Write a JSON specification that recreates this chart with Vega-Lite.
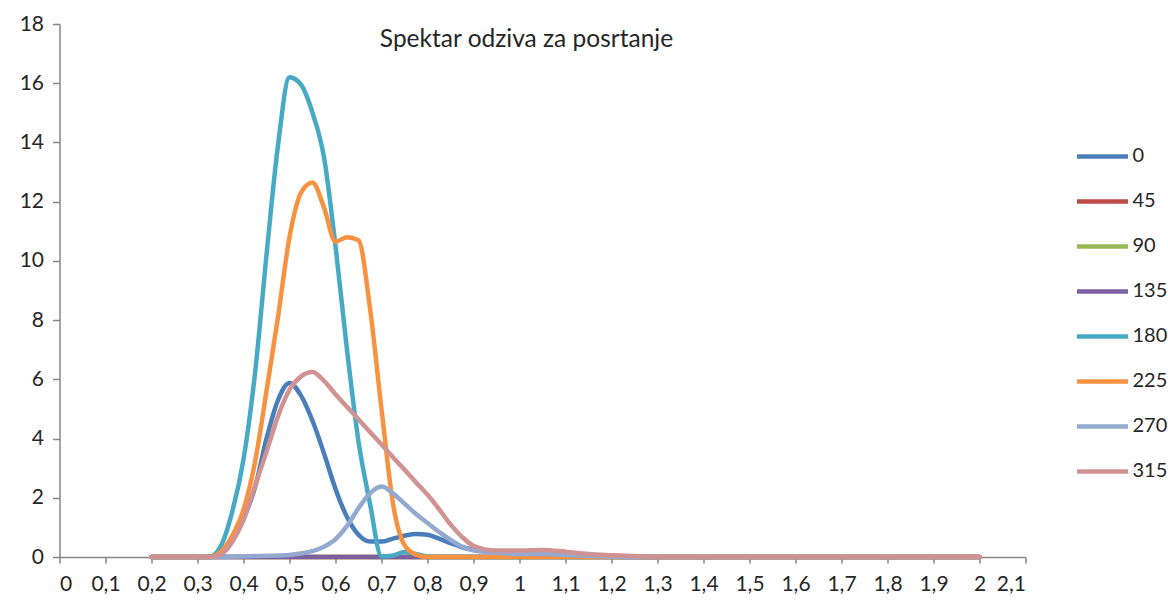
{
  "$schema": "https://vega.github.io/schema/vega-lite/v6.json",
  "width": 966,
  "height": 533,
  "autosize": {"type": "none"},
  "padding": {"left": 59.5, "top": 24, "right": 142.5, "bottom": 52},
  "background": "white",
  "config": {"view": {"stroke": null}},
  "title": {"text": "Spektar odziva za posrtanje", "anchor": "middle", "offset": -39, "dx": -16, "fontSize": 24.5, "font": "Lato", "fontWeight": "normal", "color": "#262626"},
  "data": {"values": [
    {"x": 0.2, "0": 0, "45": 0, "90": 0, "135": 0, "180": 0, "225": 0, "270": 0, "315": 0},
    {"x": 0.25, "0": 0, "45": 0, "90": 0, "135": 0, "180": 0, "225": 0, "270": 0, "315": 0},
    {"x": 0.3, "0": 0, "45": 0, "90": 0, "135": 0, "180": 0, "225": 0, "270": 0, "315": 0},
    {"x": 0.325, "0": 0, "45": 0, "90": 0, "135": 0, "180": 0, "225": 0, "270": 0, "315": 0},
    {"x": 0.35, "0": 0.12, "45": 0, "90": 0, "135": 0, "180": 0.35, "225": 0.17, "270": 0, "315": 0.08},
    {"x": 0.375, "0": 0.55, "45": 0, "90": 0, "135": 0, "180": 1.5, "225": 0.7, "270": 0.01, "315": 0.5},
    {"x": 0.4, "0": 1.3, "45": 0, "90": 0, "135": 0, "180": 3.3, "225": 1.6, "270": 0.02, "315": 1.25},
    {"x": 0.425, "0": 2.35, "45": 0, "90": 0, "135": 0, "180": 6.2, "225": 3.2, "270": 0.03, "315": 2.4},
    {"x": 0.45, "0": 4.0, "45": 0, "90": 0, "135": 0, "180": 10.2, "225": 5.6, "270": 0.04, "315": 3.55},
    {"x": 0.475, "0": 5.3, "45": 0, "90": 0, "135": 0, "180": 13.9, "225": 8.1, "270": 0.05, "315": 4.75},
    {"x": 0.5, "0": 5.88, "45": 0, "90": 0, "135": 0, "180": 16.2, "225": 10.8, "270": 0.07, "315": 5.65},
    {"x": 0.525, "0": 5.45, "45": 0, "90": 0, "135": 0, "180": 15.95, "225": 12.3, "270": 0.12, "315": 6.1},
    {"x": 0.55, "0": 4.6, "45": 0, "90": 0, "135": 0, "180": 15.0, "225": 12.65, "270": 0.2, "315": 6.25},
    {"x": 0.575, "0": 3.5, "45": 0, "90": 0, "135": 0, "180": 13.5, "225": 11.8, "270": 0.35, "315": 5.95},
    {"x": 0.6, "0": 2.3, "45": 0, "90": 0, "135": 0, "180": 10.5, "225": 10.65, "270": 0.6, "315": 5.5},
    {"x": 0.625, "0": 1.35, "45": 0, "90": 0, "135": 0, "180": 7.0, "225": 10.8, "270": 1.05, "315": 5.07},
    {"x": 0.65, "0": 0.75, "45": 0, "90": 0, "135": 0, "180": 3.9, "225": 10.7, "270": 1.65, "315": 4.65},
    {"x": 0.675, "0": 0.52, "45": 0, "90": 0, "135": 0, "180": 1.8, "225": 8.4, "270": 2.15, "315": 4.22},
    {"x": 0.7, "0": 0.52, "45": 0, "90": 0, "135": 0, "180": 0.02, "225": 5.0, "270": 2.38, "315": 3.8},
    {"x": 0.725, "0": 0.62, "45": 0, "90": 0, "135": 0, "180": 0.05, "225": 1.8, "270": 2.15, "315": 3.37},
    {"x": 0.75, "0": 0.72, "45": 0, "90": 0, "135": 0, "180": 0.17, "225": 0.4, "270": 1.8, "315": 2.95},
    {"x": 0.775, "0": 0.78, "45": 0, "90": 0, "135": 0, "180": 0.1, "225": 0.08, "270": 1.45, "315": 2.52},
    {"x": 0.8, "0": 0.75, "45": 0, "90": 0, "135": 0, "180": 0.02, "225": 0, "270": 1.15, "315": 2.1},
    {"x": 0.825, "0": 0.62, "45": 0, "90": 0, "135": 0, "180": 0, "225": 0, "270": 0.85, "315": 1.62},
    {"x": 0.85, "0": 0.47, "45": 0, "90": 0, "135": 0, "180": 0, "225": 0, "270": 0.58, "315": 1.1},
    {"x": 0.875, "0": 0.33, "45": 0, "90": 0, "135": 0, "180": 0, "225": 0, "270": 0.35, "315": 0.68},
    {"x": 0.9, "0": 0.25, "45": 0, "90": 0, "135": 0, "180": 0, "225": 0, "270": 0.22, "315": 0.38},
    {"x": 0.95, "0": 0.18, "45": 0, "90": 0, "135": 0, "180": 0, "225": 0, "270": 0.15, "315": 0.22},
    {"x": 1.0, "0": 0.15, "45": 0, "90": 0, "135": 0, "180": 0, "225": 0, "270": 0.1, "315": 0.22},
    {"x": 1.05, "0": 0.15, "45": 0, "90": 0, "135": 0, "180": 0, "225": 0, "270": 0.1, "315": 0.24},
    {"x": 1.1, "0": 0.1, "45": 0, "90": 0, "135": 0, "180": 0, "225": 0, "270": 0.07, "315": 0.18},
    {"x": 1.15, "0": 0.05, "45": 0, "90": 0, "135": 0, "180": 0, "225": 0, "270": 0.04, "315": 0.1},
    {"x": 1.2, "0": 0.02, "45": 0, "90": 0, "135": 0, "180": 0, "225": 0, "270": 0.02, "315": 0.06},
    {"x": 1.25, "0": 0, "45": 0, "90": 0, "135": 0, "180": 0, "225": 0, "270": 0, "315": 0.03},
    {"x": 1.3, "0": 0, "45": 0, "90": 0, "135": 0, "180": 0, "225": 0, "270": 0, "315": 0},
    {"x": 1.4, "0": 0, "45": 0, "90": 0, "135": 0, "180": 0, "225": 0, "270": 0, "315": 0},
    {"x": 1.5, "0": 0, "45": 0, "90": 0, "135": 0, "180": 0, "225": 0, "270": 0, "315": 0},
    {"x": 1.6, "0": 0, "45": 0, "90": 0, "135": 0, "180": 0, "225": 0, "270": 0, "315": 0},
    {"x": 1.7, "0": 0, "45": 0, "90": 0, "135": 0, "180": 0, "225": 0, "270": 0, "315": 0},
    {"x": 1.8, "0": 0, "45": 0, "90": 0, "135": 0, "180": 0, "225": 0, "270": 0, "315": 0},
    {"x": 1.9, "0": 0, "45": 0, "90": 0, "135": 0, "180": 0, "225": 0, "270": 0, "315": 0},
    {"x": 2.0, "0": 0, "45": 0, "90": 0, "135": 0, "180": 0, "225": 0, "270": 0, "315": 0}
  ]},
  "transform": [
    {"fold": ["0", "45", "90", "135", "180", "225", "270", "315"], "as": ["series", "value"]}
  ],
  "mark": {"type": "line", "interpolate": "monotone", "strokeWidth": 4.5, "strokeCap": "round", "strokeJoin": "round", "clip": false},
  "encoding": {
    "x": {
      "field": "x", "type": "quantitative",
      "scale": {"domain": [0, 2.1], "nice": false, "zero": false},
      "axis": {
        "title": null, "grid": false,
        "values": [0, 0.1, 0.2, 0.3, 0.4, 0.5, 0.6, 0.7, 0.8, 0.9, 1, 1.1, 1.2, 1.3, 1.4, 1.5, 1.6, 1.7, 1.8, 1.9, 2, 2.1],
        "labelExpr": "replace(format(datum.value, '.1~f'), '.', ',')",
        "domainColor": "#868686", "tickColor": "#868686", "domainWidth": 1.5, "tickWidth": 1.5, "tickSize": 6,
        "labelFont": "Lato", "labelFontSize": 21, "labelColor": "#262626", "labelPadding": 10
      }
    },
    "y": {
      "field": "value", "type": "quantitative",
      "scale": {"domain": [0, 18], "nice": false},
      "axis": {
        "title": null, "grid": false,
        "values": [0, 2, 4, 6, 8, 10, 12, 14, 16, 18],
        "domainColor": "#868686", "tickColor": "#868686", "domainWidth": 1.5, "tickWidth": 1.5, "tickSize": 7,
        "labelFont": "Lato", "labelFontSize": 21, "labelColor": "#262626", "labelPadding": 9
      }
    },
    "color": {
      "field": "series", "type": "nominal",
      "scale": {
        "domain": ["0", "45", "90", "135", "180", "225", "270", "315"],
        "range": ["#4a7ebb", "#be4b48", "#98b954", "#7d60a0", "#46aac5", "#f69240", "#93a9cf", "#d19392"]
      },
      "legend": {
        "title": null, "orient": "none", "legendX": 1015, "legendY": 110,
        "symbolType": "stroke", "symbolSize": 2601, "symbolStrokeWidth": 4.5,
        "labelFont": "Lato", "labelFontSize": 20, "labelColor": "#262626", "labelOffset": 2,
        "clipHeight": 44.8, "rowPadding": 0, "padding": 0
      }
    }
  }
}
